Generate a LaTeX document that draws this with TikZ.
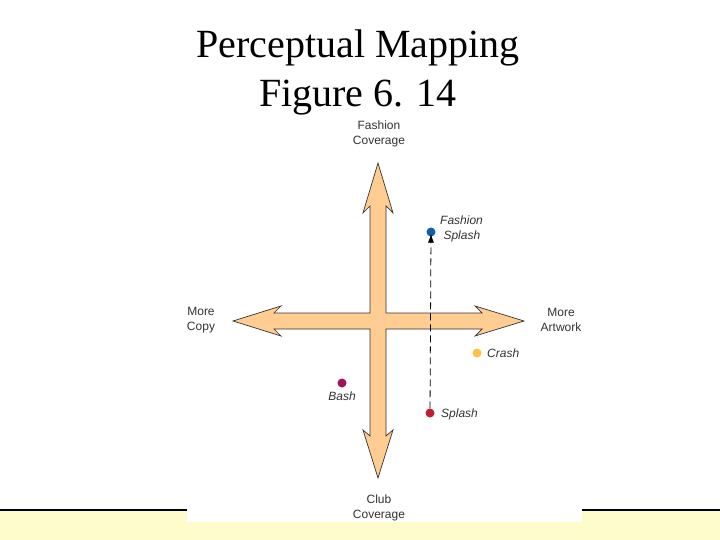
\documentclass[tikz,border=0pt]{standalone}
\usepackage{fontspec}
\usetikzlibrary{arrows.meta}
\setmainfont{Liberation Serif}
\newfontfamily\lsans{Liberation Sans}
\begin{document}
\begin{tikzpicture}[x=1pt,y=-1pt,
  lbl/.style={font=\lsans\fontsize{12}{15}\selectfont,text=black!80,align=center,inner sep=0},
  ilbl/.style={font=\lsans\itshape\fontsize{12}{15}\selectfont,text=black!80,align=left,inner sep=0},
  dot/.style={circle,inner sep=0,minimum size=9}]
\useasboundingbox (0,0) rectangle (720,540);
\fill[white] (0,0) rectangle (720,540);
\fill[yellow!20!white] (0,511) rectangle (720,540);
\draw[line width=2] (0,510) -- (720,510);
\fill[white] (187,120) rectangle (582,522);
\node[font=\fontsize{40}{49}\selectfont,align=center] (title) at (358,72) {Perceptual Mapping\\Figure 6. 14};
\draw[fill={rgb,255:red,255;green,204;blue,145},draw=black!80,line width=0.7,line join=miter]
 (378,163) -- (393,213) -- (386,206) -- (386,313) -- (482,313) -- (475,306) -- (524,321)
 -- (475,336) -- (482,329) -- (386,329) -- (386,436) -- (393,430) -- (378,478) -- (363,430)
 -- (370,436) -- (370,329) -- (274,329) -- (281,336) -- (233,321) -- (281,306) -- (274,313)
 -- (370,313) -- (370,206) -- (363,213) -- cycle;
\node[lbl] (top) at (379,134) {Fashion\\Coverage};
\node[lbl] (left) at (201,320) {More\\Copy};
\node[lbl] (right) at (561,320) {More\\Artwork};
\node[lbl] (bot) at (379,508) {Club\\Coverage};
\node[dot,fill={rgb,255:red,20;green,95;blue,170}] (fs) at (431,232) {};
\node[dot,fill={rgb,255:red,255;green,192;blue,70}] (cr) at (477,353) {};
\node[dot,fill={rgb,255:red,160;green,20;blue,90}] (ba) at (342,383) {};
\node[dot,fill={rgb,255:red,190;green,30;blue,45}] (sp) at (430,413) {};
\node[ilbl,anchor=west] (fsl) at (440,229) {Fashion\\\ Splash};
\node[ilbl,anchor=west] (crl) at (487,353) {Crash};
\node[ilbl] (bal) at (342,396) {Bash};
\node[ilbl,anchor=west] (spl) at (441,414) {Splash};
\draw[dash pattern=on 7pt off 4pt,-{Latex[length=9pt,width=6pt]},line width=0.8] (sp) -- ([yshift=3]fs.south);
\end{tikzpicture}
\end{document}
